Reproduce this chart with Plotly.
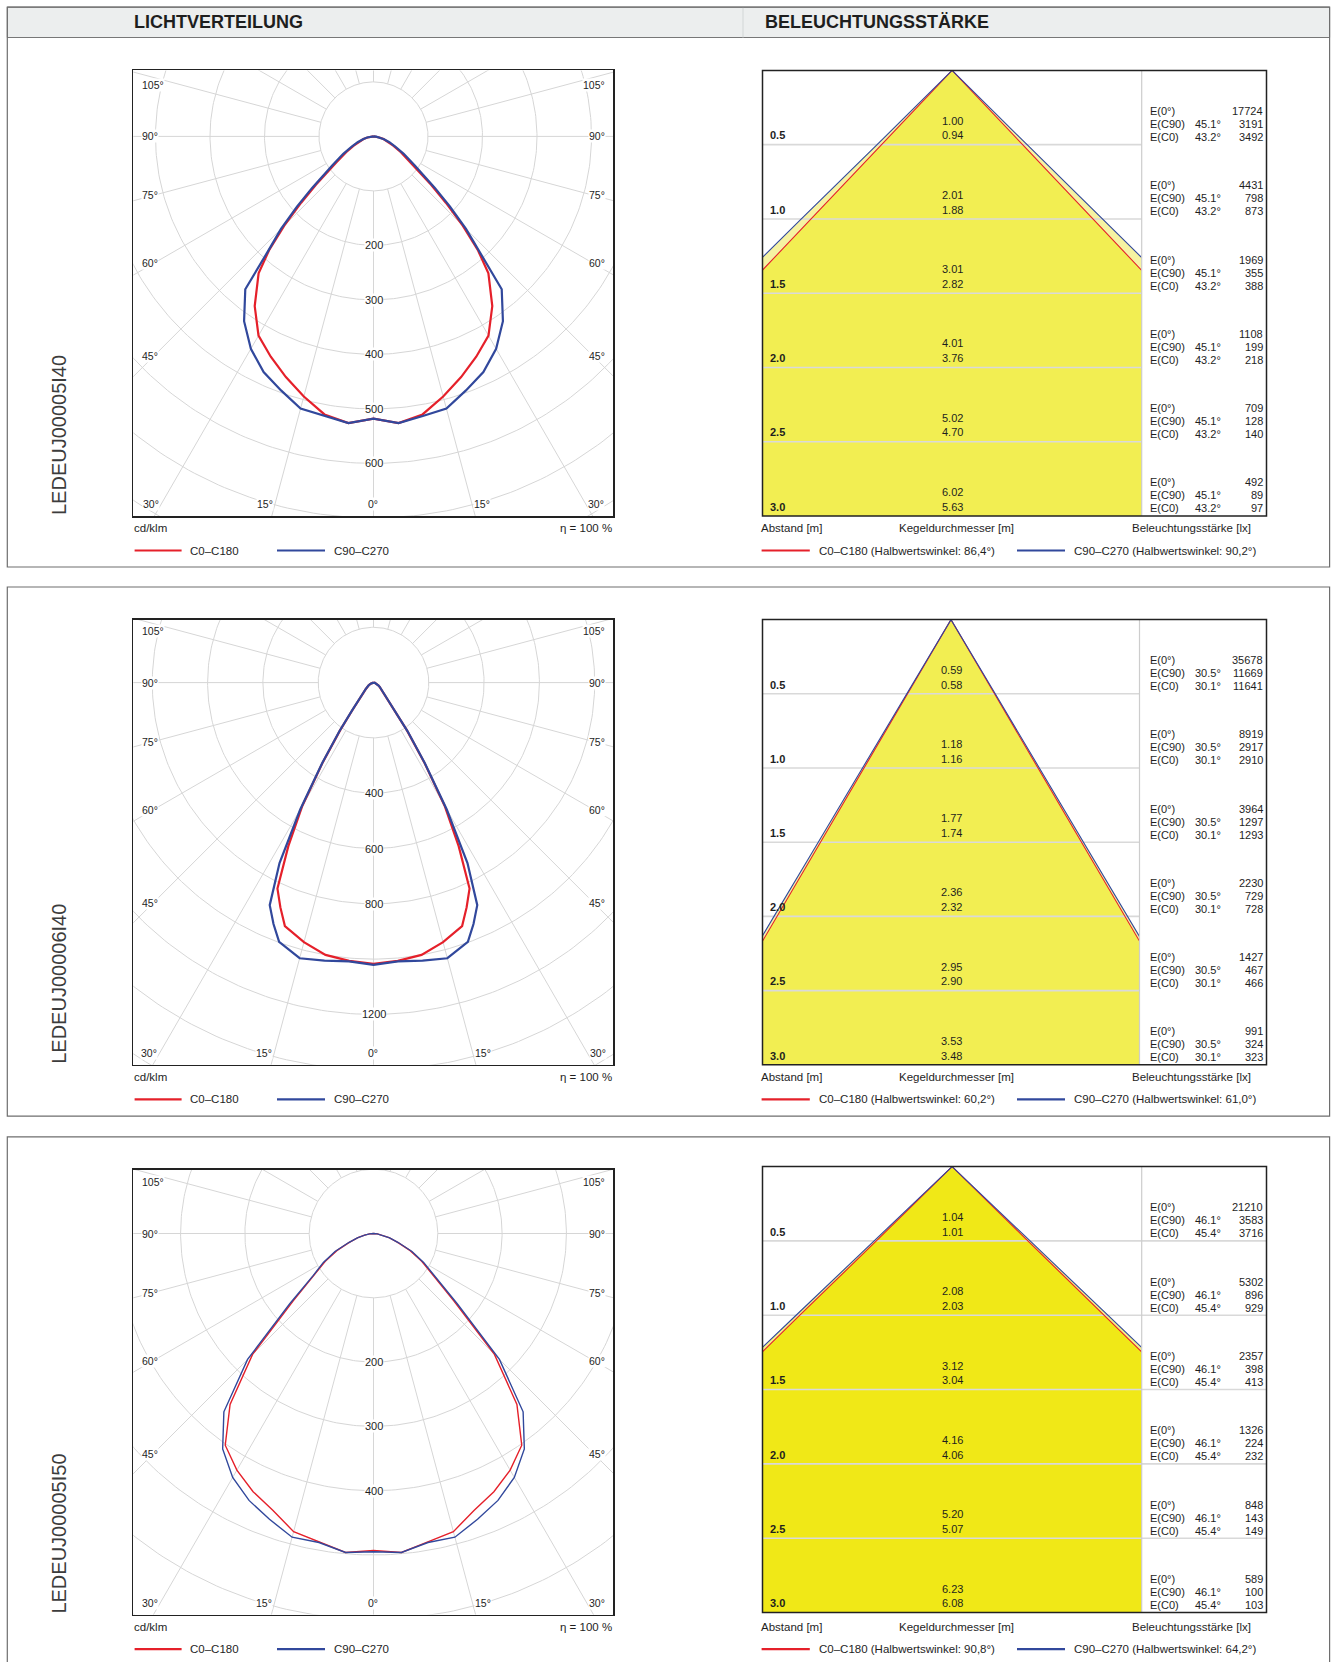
import numpy as np
import plotly.graph_objects as go

W, H = 1338, 1662

# ---------------- DATA ----------------
products = ["LEDEUJ00005I40", "LEDEUJ00006I40", "LEDEUJ00005I50"]

# Light distribution (cd/klm) vs. gamma angle, one half (curves are symmetric)
ang1 = [0, 5, 10, 15, 20, 25, 30, 35, 40, 42.5, 45, 47.5, 50, 55, 60, 65, 70, 75, 80, 85, 90]
c0_1 = [518, 528, 518, 494, 470, 446, 422, 380, 328, 284, 232, 180, 138, 84, 58, 40, 28, 19, 11, 5, 0]
c90_1 = [518, 528, 521, 517, 496, 477, 450, 414, 366, 288, 240, 190, 147, 92, 64, 44, 31, 20, 12, 5, 0]

ang2 = [0, 5, 10, 15, 20, 22.5, 25, 27.5, 30, 32.5, 35, 37.5, 40, 45, 50, 55, 60, 70, 80, 90]
c0_2 = [1017, 1010, 1000, 972, 937, 880, 822, 667, 515, 340, 210, 125, 85, 50, 36, 27, 20, 11, 5, 0]
c90_2 = [1021, 1012, 1021, 1032, 998, 945, 888, 736, 530, 345, 215, 128, 88, 52, 37, 28, 21, 11, 5, 0]

ang3 = [0, 5, 10, 15, 20, 25, 30, 35, 40, 45, 50, 55, 60, 65, 70, 75, 80, 85, 90]
c0_3 = [493, 498, 487, 480, 458, 443, 425, 402, 347, 266, 163, 112, 87, 63, 40, 25, 14, 6, 0]
c90_3 = [495, 498, 488, 489, 473, 458, 438, 409, 362, 277, 170, 115, 90, 66, 41, 26, 14, 6, 0]

ring_step = [100, 200, 100]
ring_labels = [[200, 300, 400, 500, 600], [400, 600, 800, 1200], [200, 300, 400]]
side_angles = [105, 90, 75, 60, 45]
bottom_angles = [0, 15, 30]

# Illuminance cone data
dist = [0.5, 1.0, 1.5, 2.0, 2.5, 3.0]
d_c90 = [[1.00, 2.01, 3.01, 4.01, 5.02, 6.02],
         [0.59, 1.18, 1.77, 2.36, 2.95, 3.53],
         [1.04, 2.08, 3.12, 4.16, 5.20, 6.23]]
d_c0 = [[0.94, 1.88, 2.82, 3.76, 4.70, 5.63],
        [0.58, 1.16, 1.74, 2.32, 2.90, 3.48],
        [1.01, 2.03, 3.04, 4.06, 5.07, 6.08]]
e_0 = [[17724, 4431, 1969, 1108, 709, 492],
       [35678, 8919, 3964, 2230, 1427, 991],
       [21210, 5302, 2357, 1326, 848, 589]]
e_c90 = [[3191, 798, 355, 199, 128, 89],
         [11669, 2917, 1297, 729, 467, 324],
         [3583, 896, 398, 224, 143, 100]]
e_c0 = [[3492, 873, 388, 218, 140, 97],
        [11641, 2910, 1293, 728, 466, 323],
        [3716, 929, 413, 232, 149, 103]]
ang_c90 = ["45.1", "30.5", "46.1"]
ang_c0 = ["43.2", "30.1", "45.4"]
half_c0 = ["86,4", "60,2", "90,8"]
half_c90 = ["90,2", "61,0", "64,2"]

polar_data = [(ang1, c0_1, c90_1), (ang2, c0_2, c90_2), (ang3, c0_3, c90_3)]

# ---------------- STYLE / GEOMETRY ----------------
FONT = "Liberation Sans, Arial, Helvetica, sans-serif"
TXT = "#1e1e1e"
GRID = "#d6d6d6"
RED = "#e5202a"
BLUE = "#31489c"

def X(px):
    return px / W

def Y(py):
    return 1 - py / H

secs = [
    dict(top=7.1, bot=567.0, py0=70.4, py1=516.0, cy=136.4, k=0.545, cy0=70.4, cy1=516.0,
         cx1=1141.7, full=False, yel="#f2ee52", pale="#f6f3a2", lw=2.2),
    dict(top=587.0, bot=1116.2, py0=619.6, py1=1064.8, cy=682.6, k=0.2765, cy0=619.6, cy1=1064.8,
         cx1=1139.5, full=False, yel="#f2ee52", pale="#f6f3a2", lw=2.2),
    dict(top=1136.8, bot=1700.0, py0=1169.7, py1=1614.6, cy=1233.5, k=0.643, cy0=1166.6, cy1=1612.5,
         cx1=1141.7, full=True, yel="#f0e817", pale="#f5ef85", lw=1.4),
]
PX0, PX1, CX = 133.3, 613.2, 373.5
CONE_X0, BOX_X1 = 762.5, 1266.5
SIDE_REL = {105: -51.5, 90: 0.0, 75: 59.0, 60: 127.0, 45: 220.0}

fig = go.Figure()
shapes = []
ann = []
axes = {}


def suffix(n):
    return "" if n == 1 else str(n)


def text(x, y, s, size=11, xanchor="left", yanchor="middle", xref="paper", yref="paper",
         bold=False, color=TXT, bg=None, yshift=0, angle=0):
    d = dict(x=x, y=y, xref=xref, yref=yref, text=("<b>%s</b>" % s) if bold else s,
             showarrow=False, xanchor=xanchor, yanchor=yanchor, yshift=yshift,
             font=dict(family=FONT, size=size, color=color), borderpad=0, textangle=angle)
    if bg:
        d["bgcolor"] = bg
    ann.append(d)


# Header band
shapes.append(dict(type="rect", xref="paper", yref="paper", x0=X(7.3), x1=X(1329.6),
                   y0=Y(37.5), y1=Y(7.1), fillcolor="#eceeee", line=dict(color="#777", width=1),
                   layer="below"))
shapes.append(dict(type="line", xref="paper", yref="paper", x0=X(743), x1=X(743),
                   y0=Y(37.5), y1=Y(7.1), line=dict(color="#d2d6d6", width=1)))
text(X(132.5), Y(22.5), "LICHTVERTEILUNG", size=18, bold=True)
text(X(763.7), Y(22.5), "BELEUCHTUNGSSTÄRKE", size=18, bold=True)

for i, s in enumerate(secs):
    # section frame
    shapes.append(dict(type="rect", xref="paper", yref="paper", x0=X(7.3), x1=X(1329.6),
                       y0=Y(s["bot"]), y1=Y(s["top"]), line=dict(color="#6e6e6e", width=1.2)))

    # ---------- polar panel ----------
    n = 2 * i + 1
    sx = suffix(n)
    k = s["k"]
    xr = [(PX0 - CX) / k, (PX1 - CX) / k]
    yr = [-(s["py1"] - s["cy"]) / k, -(s["py0"] - s["cy"]) / k]
    axes["xaxis" + sx] = dict(domain=[X(PX0), X(PX1)], range=xr, anchor="y" + sx,
                              showgrid=False, zeroline=False, showticklabels=False, ticks="",
                              showline=True, mirror=True, linecolor="#222", linewidth=1.5,
                              fixedrange=True)
    axes["yaxis" + sx] = dict(domain=[Y(s["py1"]), Y(s["py0"])], range=yr, anchor="x" + sx,
                              showgrid=False, zeroline=False, showticklabels=False, ticks="",
                              showline=True, mirror=True, linecolor="#222", linewidth=1.5,
                              fixedrange=True)
    step = ring_step[i]
    rmax = np.hypot(max(abs(xr[0]), abs(xr[1])), max(abs(yr[0]), abs(yr[1]))) + step
    t = np.linspace(0, 2 * np.pi, 361)
    gx, gy = [], []
    r = step
    while r <= rmax:
        gx += list(r * np.sin(t)) + [None]
        gy += list(r * np.cos(t)) + [None]
        r += step
    for a in range(0, 360, 15):
        ar = np.radians(a)
        gx += [step * np.sin(ar), rmax * np.sin(ar), None]
        gy += [-step * np.cos(ar), -rmax * np.cos(ar), None]
    fig.add_trace(go.Scatter(x=gx, y=gy, mode="lines", line=dict(color=GRID, width=1),
                             hoverinfo="skip", showlegend=False, xaxis="x" + sx, yaxis="y" + sx))
    angs, v0, v90 = polar_data[i]
    th = np.radians(np.array(angs, dtype=float))
    for vals, col in ((v0, RED), (v90, BLUE)):
        rr = np.array(vals, dtype=float)
        xs = np.concatenate([-(rr * np.sin(th))[::-1], (rr * np.sin(th))[1:]])
        ys = np.concatenate([-(rr * np.cos(th))[::-1], -(rr * np.cos(th))[1:]])
        fig.add_trace(go.Scatter(x=xs, y=ys, mode="lines", line=dict(color=col, width=s["lw"]),
                                 hoverinfo="skip", showlegend=False, xaxis="x" + sx, yaxis="y" + sx))
    for v in ring_labels[i]:
        text(0, -v, str(v), size=11, xanchor="center", xref="x" + sx, yref="y" + sx, bg="white")
    for a in side_angles:
        py = s["cy"] + SIDE_REL[a]
        text(X(141), Y(py), "%d°" % a, size=10.5, xanchor="left", bg="white")
        text(X(606), Y(py), "%d°" % a, size=10.5, xanchor="right", bg="white")
    yb = s["py1"] - 11.5
    for a in bottom_angles:
        off = (yb - s["cy"]) * np.tan(np.radians(a)) + (10 if a else 0)
        for sg in ((-1, 1) if a else (1,)):
            text(X(CX + sg * off), Y(yb), "%d°" % a, size=10.5, xanchor="center", bg="white")
    # product label
    text(X(59), Y(s["py1"]), products[i], size=20, xanchor="center", yanchor="bottom",
         color="#3c3c3c", angle=-90)
    # captions & legend
    yc = s["py1"] + 12.4
    yl = s["py1"] + 34.5
    text(X(PX0), Y(yc), "cd/klm", size=11.5)
    text(X(PX1), Y(yc), "η = 100 %", size=11.5, xanchor="right")
    for x0, x1, col, lab, xt in ((134.6, 181.6, RED, "C0–C180", 189.3),
                                 (277.0, 325.0, BLUE, "C90–C270", 332.5)):
        shapes.append(dict(type="line", xref="paper", yref="paper", x0=X(x0), x1=X(x1),
                           y0=Y(yl), y1=Y(yl), line=dict(color=col, width=2.2)))
        text(X(xt), Y(yl), lab, size=11.5)

    # ---------- illuminance cone panel ----------
    n = 2 * i + 2
    sx = suffix(n)
    hw = (s["cx1"] - CONE_X0) / 2 / 150.0
    axes["xaxis" + sx] = dict(domain=[X(CONE_X0), X(s["cx1"])], range=[-hw, hw], anchor="y" + sx,
                              showgrid=False, zeroline=False, showticklabels=False, ticks="",
                              showline=False, fixedrange=True)
    axes["yaxis" + sx] = dict(domain=[Y(s["cy1"]), Y(s["cy0"])], range=[max(dist), 0],
                              anchor="x" + sx, showgrid=False, zeroline=False,
                              showticklabels=False, ticks="", showline=False, fixedrange=True)
    for dd, fc in ((d_c90[i], s["pale"]), (d_c0[i], s["yel"])):
        fig.add_trace(go.Scatter(x=[-dd[-1] / 2, 0, dd[-1] / 2], y=[dist[-1], 0, dist[-1]],
                                 mode="lines", fill="toself", fillcolor=fc, line=dict(width=0),
                                 hoverinfo="skip", showlegend=False, xaxis="x" + sx, yaxis="y" + sx))
    rx, ry = [], []
    for h in dist[:-1]:
        rx += [-10, 10, None]
        ry += [h, h, None]
    fig.add_trace(go.Scatter(x=rx, y=ry, mode="lines", line=dict(color="#d9d9d9", width=1.6),
                             hoverinfo="skip", showlegend=False, xaxis="x" + sx, yaxis="y" + sx))
    if s["full"]:
        for h in dist[:-1]:
            shapes.append(dict(type="line", xref="paper", yref="y" + sx, x0=X(s["cx1"]),
                               x1=X(BOX_X1), y0=h, y1=h, line=dict(color="#d9d9d9", width=1.6)))
    for dd, col in ((d_c0[i], RED), (d_c90[i], BLUE)):
        xs = [-d / 2 for d in dd[::-1]] + [0] + [d / 2 for d in dd]
        ys = dist[::-1] + [0] + dist
        fig.add_trace(go.Scatter(x=xs, y=ys, mode="lines", line=dict(color=col, width=1.1),
                                 hoverinfo="skip", showlegend=False, xaxis="x" + sx, yaxis="y" + sx))
    shapes.append(dict(type="line", xref="paper", yref="paper", x0=X(s["cx1"]), x1=X(s["cx1"]),
                       y0=Y(s["cy1"]), y1=Y(s["cy0"]), line=dict(color="#cdcdcd", width=1.2)))
    shapes.append(dict(type="rect", xref="paper", yref="paper", x0=X(CONE_X0), x1=X(BOX_X1),
                       y0=Y(s["cy1"]), y1=Y(s["cy0"]), line=dict(color="#222", width=1.5)))
    ysx = "y" + sx
    for j, h in enumerate(dist):
        text(X(768.8), h, "%.1f" % h, size=11, xref="paper", yref=ysx, bold=True, yshift=9.3)
        text(0, h, "%.2f" % d_c90[i][j], size=11, xanchor="center", xref="x" + sx, yref=ysx,
             yshift=24.0)
        text(0, h, "%.2f" % d_c0[i][j], size=11, xanchor="center", xref="x" + sx, yref=ysx,
             yshift=9.3)
        rows = (("E(0°)", "", e_0[i][j], 33.6),
                ("E(C90)", ang_c90[i] + "°", e_c90[i][j], 20.6),
                ("E(C0)", ang_c0[i] + "°", e_c0[i][j], 7.6))
        for lab, an, val, ysh in rows:
            text(X(1148.5), h, lab, size=11, yref=ysx, yshift=ysh)
            if an:
                text(X(1193.5), h, an, size=11, yref=ysx, yshift=ysh)
            text(X(1263.5), h, str(val), size=11, xanchor="right", yref=ysx, yshift=ysh)
    text(X(760.3), Y(yc), "Abstand [m]", size=11.5)
    text(X(956.0), Y(yc), "Kegeldurchmesser [m]", size=11.5, xanchor="center")
    text(X(1252.0), Y(yc), "Beleuchtungsstärke [lx]", size=11.5, xanchor="right")
    for x0, x1, col, lab, xt in ((761.6, 809.8, RED, "C0–C180 (Halbwertswinkel: %s°)" % half_c0[i], 818.3),
                                 (1017.0, 1065.0, BLUE, "C90–C270 (Halbwertswinkel: %s°)" % half_c90[i], 1073.0)):
        shapes.append(dict(type="line", xref="paper", yref="paper", x0=X(x0), x1=X(x1),
                           y0=Y(yl), y1=Y(yl), line=dict(color=col, width=2.2)))
        text(X(xt), Y(yl), lab, size=11.5)

fig.update_layout(width=W, height=H, autosize=False, margin=dict(l=0, r=0, t=0, b=0),
                  paper_bgcolor="white", plot_bgcolor="white", showlegend=False,
                  shapes=shapes, annotations=ann, font=dict(family=FONT, color=TXT), **axes)
fig.write_html("out.html", config={"displayModeBar": False, "staticPlot": True},
               post_script="document.body.style.margin='0';document.body.style.overflow='hidden';")
